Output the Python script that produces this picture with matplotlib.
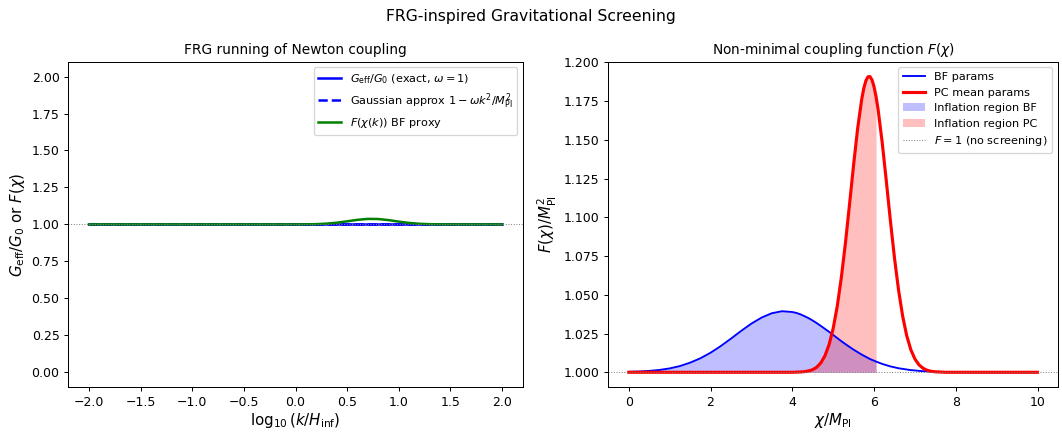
import numpy as np
import matplotlib
matplotlib.use("Agg")
import matplotlib.pyplot as plt

# ------------------------------------------------------------
# Data
# ------------------------------------------------------------

# Left panel: log10(k / H_inf) grid, step 0.1
log_k = np.round(np.arange(-2.0, 2.001, 0.1), 2)

# G_eff / G_0 (exact, omega = 1) and the Gaussian approximation: flat at 1
g_exact = [1.0] * len(log_k)
g_gauss = [1.0] * len(log_k)

# F(chi(k)) BF proxy: small bump near log10 k ~ 0.74
f_proxy = [1.0] * 20 + [
    1.0001, 1.0006, 1.0019, 1.0051, 1.0115, 1.0210, 1.0310, 1.0374,
    1.0366, 1.0292, 1.0189, 1.0100, 1.0043, 1.0015, 1.0004, 1.0001,
] + [1.0] * 5

# Right panel: chi / M_Pl sample points
chi = [
    0.0, 0.25, 0.5, 0.75, 1.0, 1.25, 1.5, 1.75, 2.0, 2.25, 2.5, 2.75,
    3.0, 3.25, 3.5, 3.75, 4.0,
    4.1, 4.2, 4.3, 4.4, 4.5, 4.6, 4.7, 4.8, 4.9, 5.0, 5.1, 5.2, 5.3,
    5.4, 5.5, 5.6, 5.7, 5.75, 5.8, 5.85, 5.9, 5.95, 6.0, 6.05,
    6.1, 6.2, 6.3, 6.4, 6.5, 6.6, 6.7, 6.8, 6.9, 7.0, 7.1, 7.2, 7.3,
    7.4, 7.5,
    7.75, 8.0, 8.25, 8.5, 8.75, 9.0, 9.25, 9.5, 9.75, 10.0,
]

f_bf = [
    1.0003, 1.0005, 1.0009, 1.0015, 1.0025, 1.0040, 1.0062, 1.0090,
    1.0126, 1.0169, 1.0217, 1.0267, 1.0314, 1.0353, 1.0381, 1.0394,
    1.0389,
    1.0383, 1.0374, 1.0362, 1.0349, 1.0334, 1.0317, 1.0299, 1.0280,
    1.0261, 1.0241, 1.0221, 1.0201, 1.0182, 1.0164, 1.0146, 1.0130,
    1.0114, 1.0107, 1.0100, 1.0093, 1.0086, 1.0080, 1.0075, 1.0069,
    1.0064, 1.0054, 1.0046, 1.0038, 1.0032, 1.0026, 1.0022, 1.0018,
    1.0014, 1.0012, 1.0009, 1.0007, 1.0006, 1.0004, 1.0003,
    1.0002, 1.0001, 1.0, 1.0, 1.0, 1.0, 1.0, 1.0, 1.0, 1.0,
]

f_pc = [1.0] * 17 + [
    1.0001, 1.0002, 1.0004, 1.0009, 1.0017, 1.0033, 1.0061, 1.0107,
    1.0178, 1.0282, 1.0425, 1.0610, 1.0832, 1.1081, 1.1337, 1.1574,
    1.1763, 1.1832, 1.1880, 1.1906, 1.1908, 1.1887, 1.1843, 1.1778,
    1.1695, 1.1483, 1.1236, 1.0980, 1.0739, 1.0531, 1.0363, 1.0236,
    1.0146, 1.0086, 1.0048, 1.0026, 1.0013, 1.0006, 1.0003,
] + [1.0] * 10

# inflation region end (chi_end) for the shaded band
chi_end = 6.05

# ------------------------------------------------------------
# Figure
# ------------------------------------------------------------

fig = plt.figure(figsize=(1062 / 90, 432 / 90), dpi=90)
ax1 = fig.add_axes([0.0643, 0.104, 0.4279, 0.753])
ax2 = fig.add_axes([0.5728, 0.104, 0.4234, 0.753])

# --- left: FRG running ---
ax1.plot(log_k, g_exact, color="blue", lw=2,
         label=r"$G_{\rm eff}/G_0$ (exact, $\omega=1$)")
ax1.plot(log_k, g_gauss, color="blue", lw=2, ls="--",
         label=r"Gaussian approx $1-\omega k^2/M_{\rm Pl}^2$")
ax1.plot(log_k, f_proxy, color="green", lw=2,
         label=r"$F(\chi(k))$ BF proxy")
ax1.axhline(1.0, color="gray", lw=0.8, ls=":")
ax1.set_ylim(-0.1, 2.1)
ax1.set_xlabel(r"$\log_{10}(k/H_{\rm inf})$", fontsize=12, labelpad=2)
ax1.set_ylabel(r"$G_{\rm eff}/G_0$ or $F(\chi)$", fontsize=12)
ax1.set_title("FRG running of Newton coupling", fontsize=11)
ax1.legend(loc="upper right", fontsize=9)

# --- right: F(chi) ---
chi_arr = np.array(chi)
mask = chi_arr <= chi_end
ax2.plot(chi, f_bf, color="blue", lw=1.5, label="BF params")
ax2.plot(chi, f_pc, color="red", lw=2.5, label="PC mean params")
ax2.fill_between(chi_arr, 1.0, f_bf, where=mask, color="blue", alpha=0.25,
                 lw=0, label="Inflation region BF")
ax2.fill_between(chi_arr, 1.0, f_pc, where=mask, color="red", alpha=0.25,
                 lw=0, label="Inflation region PC")
ax2.axhline(1.0, color="gray", lw=0.8, ls=":", label=r"$F=1$ (no screening)")
ax2.set_xlabel(r"$\chi/M_{\rm Pl}$", fontsize=12, labelpad=2)
ax2.set_ylabel(r"$F(\chi)/M_{\rm Pl}^2$", fontsize=12)
ax2.set_title(r"Non-minimal coupling function $F(\chi)$", fontsize=11)
ax2.legend(loc="upper right", fontsize=9)

fig.suptitle("FRG-inspired Gravitational Screening", fontsize=12.5, y=0.98)

fig.savefig("out.png", dpi=90)
